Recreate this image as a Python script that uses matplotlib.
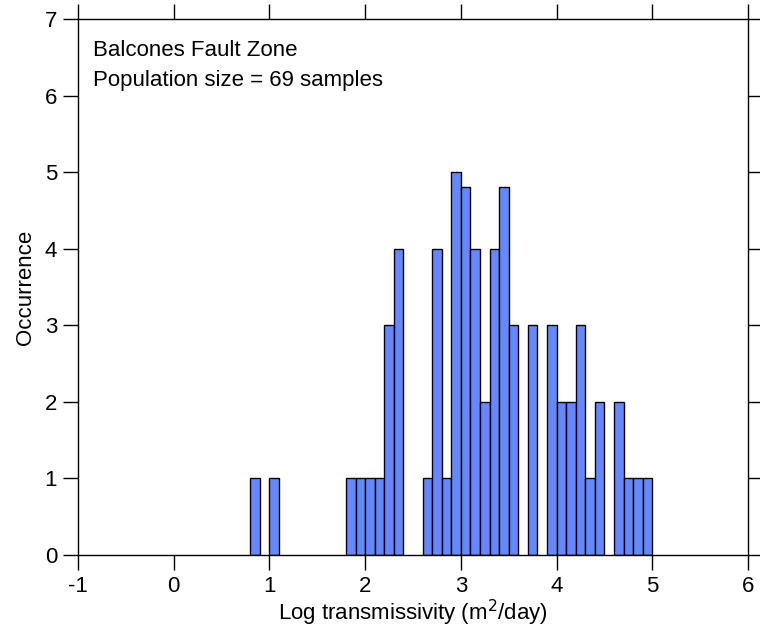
import matplotlib
matplotlib.use("Agg")
import matplotlib.pyplot as plt
import numpy as np

plt.rcParams['font.family'] = ['Liberation Sans', 'DejaVu Sans']

# bin left edges (log transmissivity, bin width 0.1) and counts
bin_left = [0.8, 1.0, 1.8, 1.9, 2.0, 2.1, 2.2, 2.3,
            2.6, 2.7, 2.8, 2.9, 3.0, 3.1, 3.2, 3.3, 3.4, 3.5,
            3.7, 3.9, 4.0, 4.1, 4.2, 4.3, 4.4, 4.6, 4.7, 4.8, 4.9]
counts = [1, 1, 1, 1, 1, 1, 3, 4,
          1, 4, 1, 5, 4.8, 4, 2, 4, 4.8, 3,
          3, 3, 2, 2, 3, 1, 2, 2, 1, 1, 1]
bin_width = 0.1

xticks = [-1, 0, 1, 2, 3, 4, 5, 6]
yticks = [0, 1, 2, 3, 4, 5, 6, 7]

fig = plt.figure(figsize=(7.6, 6.35), dpi=100)
ax = fig.add_axes([78/760, 1-555/635, (748-78)/760, (555-19)/635])

ax.bar(bin_left, counts, width=bin_width, align='edge',
       color='#6688FF', edgecolor='black', linewidth=1.0)

ax.set_xlim(-1, 6)
ax.set_ylim(0, 7)
ax.set_xticks(xticks)
ax.set_yticks(yticks)
ax.set_xticklabels([str(t) for t in xticks])
ax.set_yticklabels([str(t) for t in yticks])
ax.tick_params(axis='both', direction='out', length=11, width=1.0,
               labelsize=16, top=True, right=True, pad=4)
for s in ax.spines.values():
    s.set_linewidth(1.0)

ax.set_xlabel('Log transmissivity (m$^2$/day)', fontsize=16, labelpad=1)
ax.set_ylabel('Occurrence', fontsize=16, labelpad=6)

ax.text(0.022, 0.96, 'Balcones Fault Zone\nPopulation size = 69 samples',
        transform=ax.transAxes, fontsize=16, va='top', ha='left',
        linespacing=1.55)

fig.savefig('out.png', dpi=100)
